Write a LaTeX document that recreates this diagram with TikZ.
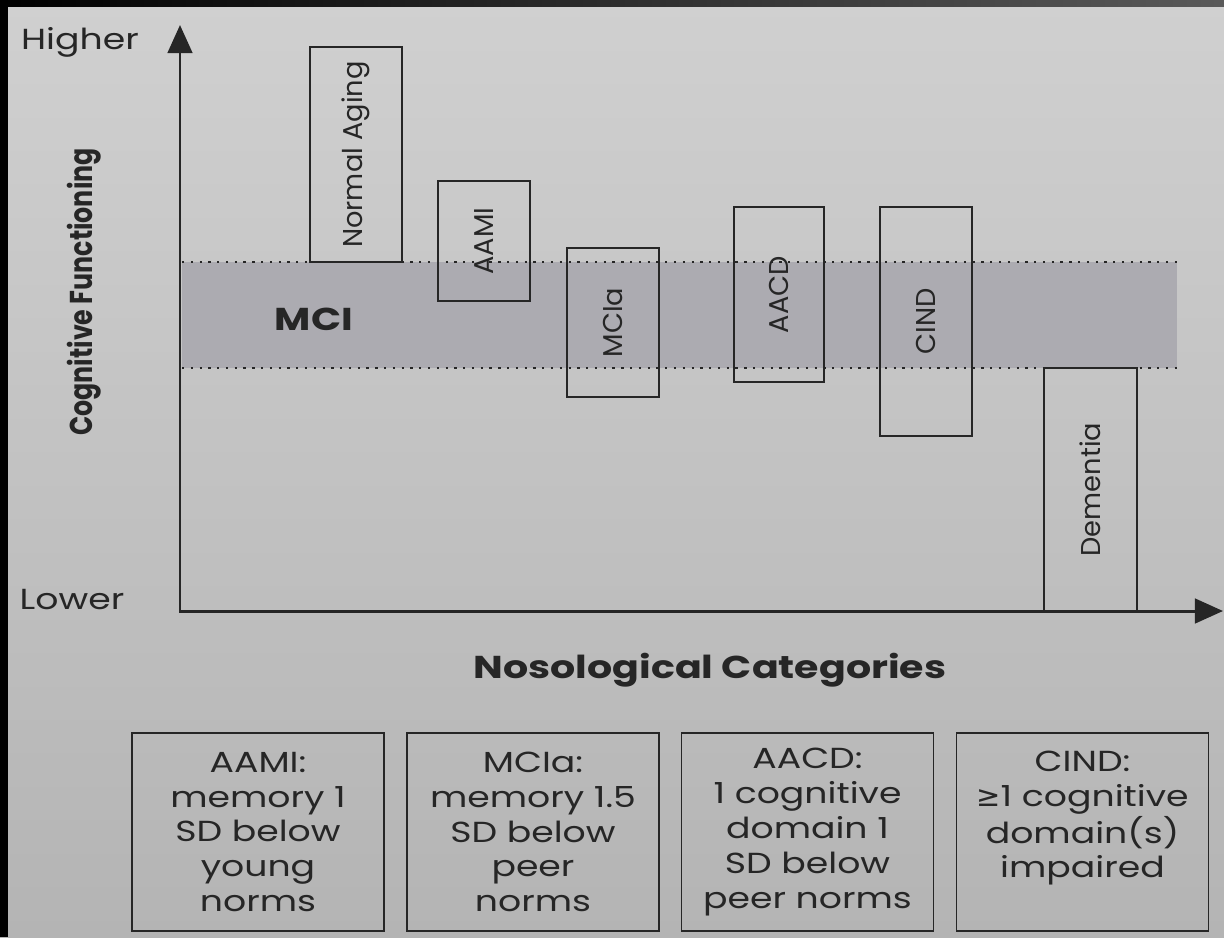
\documentclass[tikz,border=0pt]{standalone}
\usepackage{fontspec}
\setmainfont{Poppins}
\newfontfamily\widefont{Poppins}[FakeStretch=1.25]
\newfontfamily\narrowfont{Poppins}[FakeStretch=0.8]
\newfontfamily\symfont{DejaVu Sans}
\usetikzlibrary{arrows.meta}

\definecolor{bgtop}{RGB}{208,208,208}
\definecolor{bgbot}{RGB}{180,180,180}
\definecolor{bandgray}{RGB}{172,171,177}
\definecolor{inkgray}{RGB}{38,38,38}

\tikzset{
  axisline/.style={line width=1.7pt, draw=inkgray, line join=miter},
  catbox/.style 2 args={draw=inkgray, line width=1.1pt, rotate=90, inner sep=0pt,
    minimum width=#2*0.02cm, minimum height=#1*0.02cm, text=inkgray,
    font=\fontsize{15.5}{18}\selectfont},
  defbox/.style={draw=inkgray, line width=1.1pt, align=center, inner sep=0pt,
    minimum width=252*0.02cm, minimum height=198*0.02cm, text=inkgray,
    font=\widefont\fontsize{16.5}{19.8}\selectfont},
  bandedge/.style={draw=inkgray, line width=1.3pt, dash pattern=on 1.3pt off 3.7pt},
  axislabel/.style={font=\widefont\fontsize{16.5}{19.8}\selectfont, text=inkgray},
  boldlabel/.style={font=\widefont\bfseries\fontsize{18}{22}\selectfont, text=inkgray},
}

\begin{document}
\begin{tikzpicture}[x=0.02cm,y=-0.02cm]
  % background and dark frame
  \useasboundingbox (0,0) rectangle (1224,937);
  \shade[top color=bgtop, bottom color=bgbot] (0,0) rectangle (1224,937);
  \shade[left color=black, right color=black!65] (0,0) rectangle (1224,6);
  \fill[black] (0,0) rectangle (8,937);

  % MCI band
  \fill[bandgray] (182,262) rectangle (1177,368);
  \draw[bandedge] (182,262) -- (1177,262);
  \draw[bandedge] (182,368) -- (1177,368);
  \node[boldlabel] (mci) at (314,319) {MCI};

  % nosological categories
  \foreach \name/\cx/\cy/\w/\h/\txt in {
        normal/356/154.5/92/215/Normal Aging,
        aami/484/241/92/120/AAMI,
        mcia/613/322.5/92/149/MCIa,
        aacd/779/294.5/90/175/AACD,
        cind/926/321.5/92/229/CIND,
        dementia/1090.5/489.5/93/243/Dementia
  } {
      \node[catbox={\w}{\h}] (\name) at (\cx,\cy) {\txt};
  }

  % axes
  \coordinate (origin) at (180,611);
  \coordinate (ytip) at (180,25);
  \coordinate (xtip) at (1223,611);
  \draw[axisline, {Triangle[length=16pt,width=14pt]}-{Triangle[length=16pt,width=14pt]}]
      (ytip) -- (origin) -- (xtip);
  \node[axislabel] (higher) at (80,42) {Higher};
  \node[axislabel] (lower) at (72,600) {Lower};
  \node[boldlabel, font=\narrowfont\bfseries\fontsize{18}{22}\selectfont, rotate=90]
      (yname) at (84,292) {Cognitive Functioning};
  \node[boldlabel] (xname) at (710,670) {Nosological Categories};

  % definitions
  \node[defbox] (defaami) at (258,832) {AAMI:\\memory 1\\SD below\\young\\norms};
  \node[defbox] (defmcia) at (533,832) {MCIa:\\memory 1.5\\SD below\\peer\\norms};
  \node[defbox] (defaacd) at (807.5,832) {AACD:\\1 cognitive\\domain 1\\SD below\\peer norms};
  \node[defbox] (defcind) at (1082.5,832) {CIND:\\{\symfont ≥}1 cognitive\\domain(s)\\impaired\\\mbox{}};
\end{tikzpicture}
\end{document}
